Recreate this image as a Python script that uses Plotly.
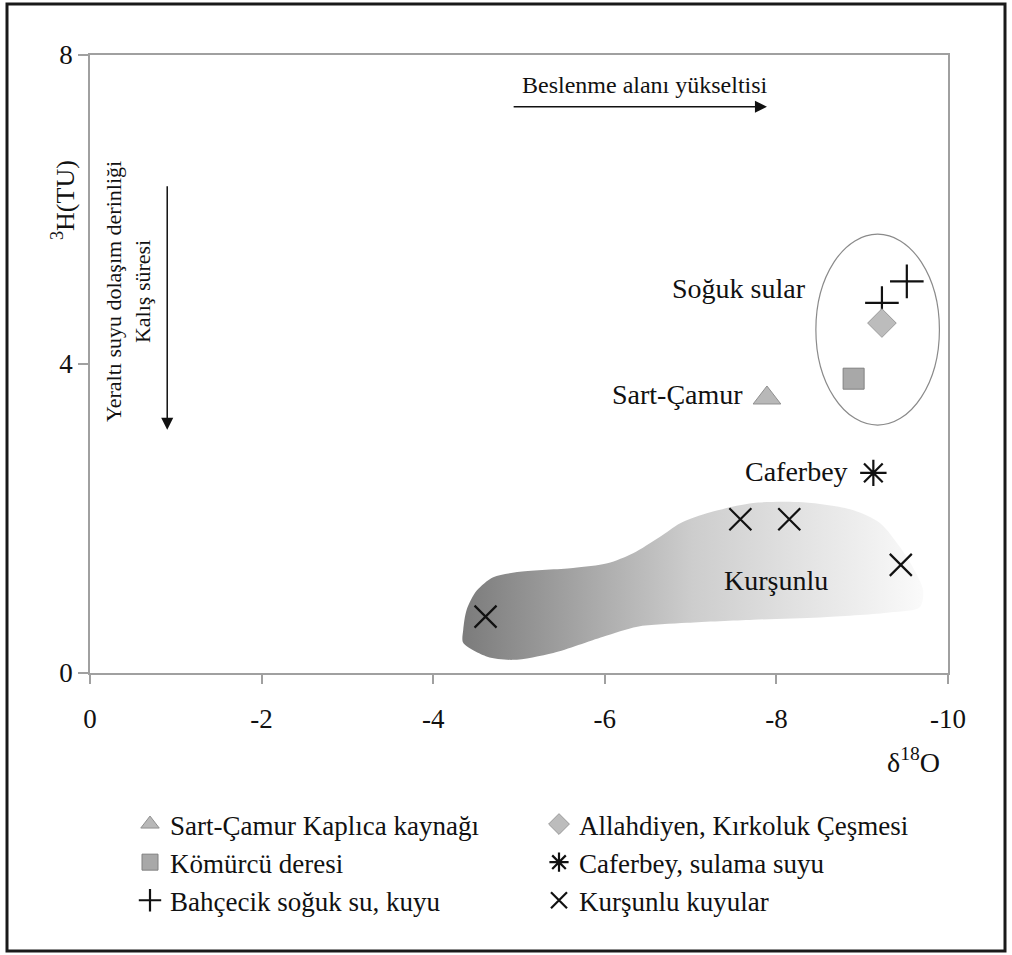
import plotly.graph_objects as go

# ---- data ----
sart_x = [-7.89]; sart_y = [3.56]
komurcu_x = [-8.90]; komurcu_y = [3.81]
allah_x = [-9.23]; allah_y = [4.53]
bahce_x = [-9.23, -9.52]; bahce_y = [4.79, 5.07]
cafer_x = [-9.13]; cafer_y = [2.59]
kursun_x = [-4.61, -7.58, -8.15, -9.45]; kursun_y = [0.73, 1.99, 1.99, 1.40]

# outline of the shaded Kurşunlu field (data units)
blob_x = [-4.35, -4.63, -4.93, -5.40, -5.98, -6.38, -6.96, -7.73, -8.51, -9.29, -9.67,
          -9.71, -9.59, -9.44, -9.21, -8.89, -8.31, -7.73, -7.23, -6.88, -6.64, -6.33,
          -6.03, -5.63, -5.01, -4.70, -4.51, -4.39, -4.35, -4.35]
blob_y = [0.39, 0.21, 0.17, 0.26, 0.47, 0.60, 0.65, 0.69, 0.72, 0.78, 0.85,
          1.07, 1.37, 1.63, 1.94, 2.11, 2.21, 2.20, 2.08, 1.94, 1.76, 1.55,
          1.42, 1.36, 1.31, 1.24, 1.07, 0.82, 0.56, 0.39]

# cold-water ellipse bounds
ell_x = [-8.46, -9.90]; ell_y = [3.21, 5.68]

x_tick_vals = [0, -2, -4, -6, -8, -10]
x_tick_labels = ["0", "-2", "-4", "-6", "-8", "-10"]
y_tick_vals = [0, 4, 8]
y_tick_labels = ["0", "4", "8"]

FONT = "Liberation Serif, Times New Roman, serif"
W, H = 1012, 955
ML, MR, MT, MB = 90, 64, 55, 282
PW, PH = W - ML - MR, H - MT - MB

def px(x):
    return (x - ML) / PW

def py(y):
    return (H - MB - y) / PH

fig = go.Figure()

fig.add_trace(go.Scatter(
    x=blob_x, y=blob_y, mode="lines", fill="toself", line=dict(width=0, shape="spline", smoothing=0.8),
    fillgradient=dict(type="horizontal", start=-4.3, stop=-9.75,
                      colorscale=[[0, "#7a7a7a"], [0.5, "#cdcdcd"], [1, "#fbfbfb"]]),
    showlegend=False, hoverinfo="skip"))

mk = dict(mode="markers", hoverinfo="x+y")
fig.add_trace(go.Scatter(x=sart_x, y=sart_y, name="Sart-Çamur Kaplıca kaynağı", legend="legend",
                         marker=dict(symbol="triangle-up", size=24, color="#b8b8b8", line=dict(color="#909090", width=1)), **mk))
fig.add_trace(go.Scatter(x=komurcu_x, y=komurcu_y, name="Kömürcü deresi", legend="legend",
                         marker=dict(symbol="square", size=21, color="#a8a8a8", line=dict(color="#808080", width=1)), **mk))
fig.add_trace(go.Scatter(x=bahce_x, y=bahce_y, name="Bahçecik soğuk su, kuyu", legend="legend",
                         marker=dict(symbol="cross-thin-open", size=24, color="#111", line=dict(color="#111", width=2.2)), **mk))
fig.add_trace(go.Scatter(x=allah_x, y=allah_y, name="Allahdiyen, Kırkoluk Çeşmesi", legend="legend2",
                         marker=dict(symbol="diamond", size=22, color="#bcbcbc", line=dict(color="#999", width=1)), **mk))
fig.add_trace(go.Scatter(x=cafer_x, y=cafer_y, name="Caferbey, sulama suyu", legend="legend2",
                         marker=dict(symbol="asterisk-open", size=22, color="#111", line=dict(color="#111", width=2.2)), **mk))
fig.add_trace(go.Scatter(x=kursun_x, y=kursun_y, name="Kurşunlu kuyular", legend="legend2",
                         marker=dict(symbol="x-thin-open", size=22, color="#111", line=dict(color="#111", width=2.2)), **mk))

shapes = [
    dict(type="circle", xref="x", yref="y", x0=ell_x[0], x1=ell_x[1], y0=ell_y[0], y1=ell_y[1],
         line=dict(color="#8a8a8a", width=1.2)),
    dict(type="rect", xref="paper", yref="paper", x0=px(7), x1=px(1005), y0=py(951), y1=py(4),
         line=dict(color="#1a1a1a", width=3)),
]

tf = dict(family=FONT, color="#111")
annotations = [
    dict(x=-8.37, y=4.98, xref="x", yref="y", text="Soğuk sular", showarrow=False, xanchor="right",
         font=dict(size=28, **tf)),
    dict(x=-7.63, y=3.60, xref="x", yref="y", text="Sart-Çamur", showarrow=False, xanchor="right",
         font=dict(size=28, **tf)),
    dict(x=-8.86, y=2.61, xref="x", yref="y", text="Caferbey", showarrow=False, xanchor="right",
         font=dict(size=28, **tf)),
    dict(x=-8.0, y=1.20, xref="x", yref="y", text="Kurşunlu", showarrow=False, xanchor="center",
         font=dict(size=28, **tf)),
    dict(x=-6.47, y=7.61, xref="x", yref="y", text="Beslenme alanı yükseltisi", showarrow=False,
         font=dict(size=24, **tf)),
    # horizontal arrow
    dict(x=-7.89, y=7.33, ax=-4.92, ay=7.33, xref="x", yref="y", axref="x", ayref="y", text="",
         showarrow=True, arrowhead=2, arrowsize=1.6, arrowwidth=1.5, arrowcolor="#111"),
    # vertical arrow
    dict(x=-0.90, y=3.15, ax=-0.90, ay=6.32, xref="x", yref="y", axref="x", ayref="y", text="",
         showarrow=True, arrowhead=2, arrowsize=1.6, arrowwidth=1.5, arrowcolor="#111"),
    dict(x=px(128), y=py(292), xref="paper", yref="paper", xanchor="center", yanchor="middle",
         text="Yeraltı suyu dolaşım derinliği<br>Kalış süresi",
         textangle=-90, showarrow=False, font=dict(size=22, **tf)),
    dict(x=px(63), y=py(200), xref="paper", yref="paper", xanchor="center", yanchor="middle",
         text="<sup>3</sup>H(TU)", textangle=-90, showarrow=False, font=dict(size=26, **tf)),
    dict(x=px(913), y=py(760), xref="paper", yref="paper", xanchor="center", yanchor="middle",
         text="δ<sup>18</sup>O", showarrow=False, font=dict(size=28, **tf)),
]

axis_common = dict(showgrid=False, zeroline=False, showline=True, mirror=True, linecolor="#a0a0a0",
                   linewidth=1.5, ticks="outside", tickcolor="#a0a0a0", tickwidth=1.5,
                   tickfont=dict(size=27, **tf))

legend_common = dict(font=dict(size=27, **tf), bgcolor="rgba(0,0,0,0)", borderwidth=0,
                     xanchor="left", yanchor="top", tracegroupgap=0, itemwidth=30, orientation="v")

fig.update_layout(
    width=W, height=H, margin=dict(l=ML, r=MR, t=MT, b=MB),
    paper_bgcolor="white", plot_bgcolor="white",
    xaxis=dict(range=[0, -10], tickmode="array", tickvals=x_tick_vals, ticktext=x_tick_labels,
               ticklen=9, ticklabelstandoff=12, **axis_common),
    yaxis=dict(range=[0, 8], tickmode="array", tickvals=y_tick_vals, ticktext=y_tick_labels,
               ticklen=10, ticklabelstandoff=0, **axis_common),
    legend=dict(x=px(130), y=py(800), **legend_common),
    legend2=dict(x=px(539), y=py(800), **legend_common),
    shapes=shapes, annotations=annotations,
)

fig.write_html("out.html")
